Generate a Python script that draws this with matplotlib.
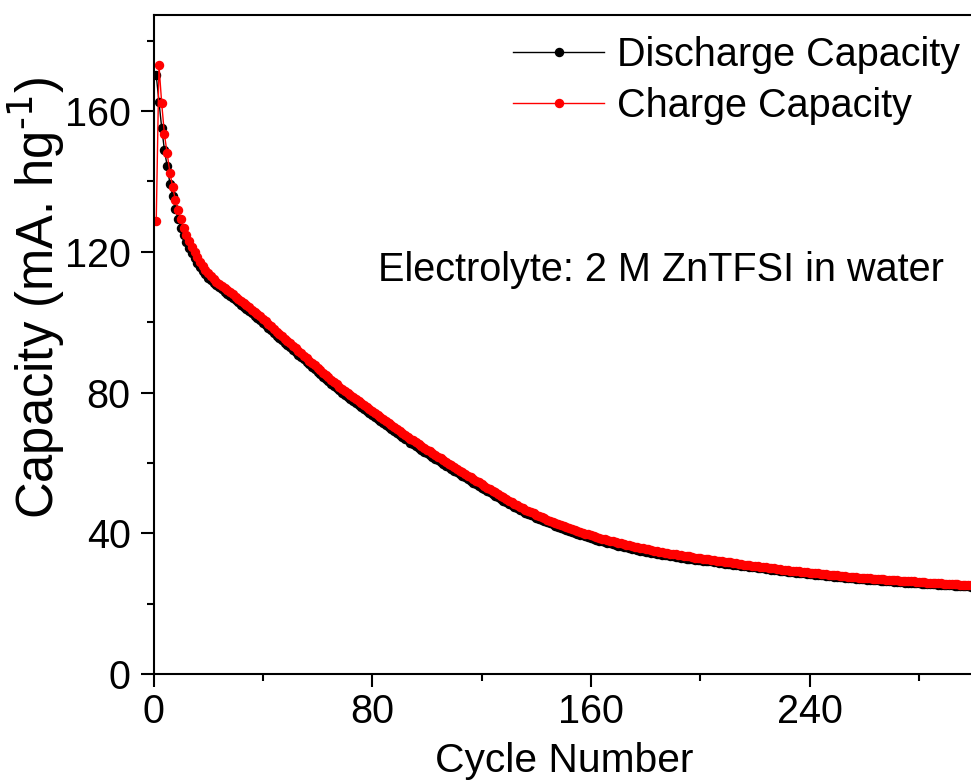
import matplotlib
matplotlib.use("Agg")
import matplotlib.pyplot as plt
import numpy as np
from matplotlib.ticker import MultipleLocator

plt.rcParams['font.family'] = ['Liberation Sans', 'DejaVu Sans']
plt.rcParams['mathtext.default'] = 'regular'

# cycle number 1..300
cycles = np.arange(1, 301)

# discharge capacity (mA h g-1), read per cycle
discharge = [
    170.2, 162.6, 155.2, 148.9, 144.4, 139.4, 135.8, 132.3, 129.4, 126.9,
    124.7, 122.8, 121.1, 119.6, 118.2, 116.9, 115.7, 114.6, 113.6, 112.7,
    111.9, 111.2, 110.5, 109.9, 109.3, 108.7, 108.1, 107.5, 106.9, 106.2,
    105.6, 105.0, 104.4, 103.8, 103.2, 102.5, 101.9, 101.2, 100.6, 99.9,
    99.2, 98.4, 97.7, 96.9, 96.2, 95.5, 94.9, 94.2, 93.6, 92.9,
    92.2, 91.5, 90.8, 90.1, 89.4, 88.7, 88.0, 87.3, 86.6, 85.9,
    85.2, 84.5, 83.9, 83.2, 82.5, 81.9, 81.3, 80.6, 80.0, 79.4,
    78.8, 78.2, 77.7, 77.1, 76.5, 75.9, 75.3, 74.8, 74.2, 73.6,
    73.0, 72.5, 71.9, 71.4, 70.8, 70.2, 69.7, 69.1, 68.6, 68.0,
    67.5, 66.9, 66.4, 65.8, 65.3, 64.8, 64.2, 63.7, 63.2, 62.7,
    62.2, 61.7, 61.2, 60.7, 60.2, 59.7, 59.2, 58.7, 58.2, 57.7,
    57.3, 56.8, 56.4, 55.9, 55.4, 54.9, 54.4, 54.0, 53.5, 53.0,
    52.6, 52.1, 51.7, 51.2, 50.7, 50.2, 49.8, 49.3, 48.9, 48.4,
    48.0, 47.5, 47.1, 46.6, 46.2, 45.8, 45.5, 45.1, 44.8, 44.4,
    44.1, 43.8, 43.5, 43.1, 42.8, 42.5, 42.2, 41.9, 41.6, 41.3,
    41.0, 40.7, 40.5, 40.2, 39.9, 39.6, 39.4, 39.1, 38.9, 38.6,
    38.4, 38.2, 37.9, 37.7, 37.5, 37.3, 37.1, 36.9, 36.7, 36.5,
    36.3, 36.1, 36.0, 35.8, 35.6, 35.4, 35.3, 35.1, 35.0, 34.8,
    34.7, 34.5, 34.4, 34.2, 34.1, 33.9, 33.8, 33.7, 33.5, 33.4,
    33.3, 33.2, 33.0, 32.9, 32.8, 32.7, 32.6, 32.5, 32.4, 32.3,
    32.2, 32.1, 32.0, 32.0, 31.9, 31.7, 31.6, 31.5, 31.4, 31.3,
    31.2, 31.1, 31.0, 30.9, 30.8, 30.7, 30.6, 30.5, 30.4, 30.3,
    30.2, 30.1, 30.0, 29.9, 29.8, 29.7, 29.6, 29.5, 29.4, 29.3,
    29.2, 29.1, 29.0, 28.9, 28.8, 28.8, 28.7, 28.6, 28.5, 28.4,
    28.3, 28.2, 28.2, 28.1, 28.0, 27.9, 27.8, 27.8, 27.7, 27.6,
    27.5, 27.5, 27.4, 27.3, 27.2, 27.2, 27.1, 27.0, 27.0, 26.9,
    26.8, 26.8, 26.7, 26.6, 26.6, 26.5, 26.5, 26.4, 26.3, 26.3,
    26.2, 26.2, 26.1, 26.1, 26.0, 26.0, 25.9, 25.9, 25.8, 25.8,
    25.7, 25.7, 25.6, 25.6, 25.5, 25.5, 25.4, 25.4, 25.3, 25.3,
    25.2, 25.2, 25.1, 25.1, 25.0, 25.0, 24.9, 24.9, 24.8, 24.8,
]

# charge capacity (mA h g-1), read per cycle
charge = [
    128.7, 173.0, 162.2, 153.4, 148.0, 142.5, 138.5, 134.7, 131.9, 129.2,
    126.8, 124.8, 123.0, 121.4, 119.9, 118.5, 117.2, 116.0, 114.9, 113.9,
    113.0, 112.2, 111.5, 110.9, 110.3, 109.7, 109.1, 108.5, 107.9, 107.3,
    106.7, 106.1, 105.5, 104.9, 104.3, 103.6, 103.0, 102.3, 101.7, 101.0,
    100.3, 99.5, 98.8, 98.0, 97.3, 96.6, 96.0, 95.3, 94.7, 94.0,
    93.3, 92.6, 91.9, 91.2, 90.5, 89.8, 89.1, 88.4, 87.7, 87.0,
    86.3, 85.6, 85.0, 84.3, 83.6, 83.0, 82.4, 81.7, 81.1, 80.5,
    79.9, 79.3, 78.8, 78.2, 77.6, 77.0, 76.4, 75.9, 75.3, 74.7,
    74.1, 73.6, 73.0, 72.5, 71.9, 71.3, 70.8, 70.2, 69.7, 69.1,
    68.6, 68.0, 67.5, 66.9, 66.4, 65.9, 65.3, 64.8, 64.3, 63.8,
    63.3, 62.8, 62.3, 61.8, 61.3, 60.8, 60.3, 59.8, 59.3, 58.8,
    58.3, 57.8, 57.4, 56.9, 56.4, 55.9, 55.4, 55.0, 54.5, 54.0,
    53.5, 53.0, 52.6, 52.1, 51.6, 51.1, 50.7, 50.2, 49.8, 49.3,
    48.9, 48.4, 48.0, 47.5, 47.1, 46.7, 46.4, 46.0, 45.7, 45.3,
    45.0, 44.6, 44.3, 43.9, 43.6, 43.3, 43.0, 42.7, 42.4, 42.1,
    41.8, 41.5, 41.3, 41.0, 40.7, 40.4, 40.2, 39.9, 39.7, 39.4,
    39.2, 39.0, 38.7, 38.5, 38.3, 38.1, 37.9, 37.7, 37.5, 37.3,
    37.1, 36.9, 36.8, 36.6, 36.4, 36.2, 36.1, 35.9, 35.8, 35.6,
    35.4, 35.3, 35.1, 35.0, 34.8, 34.7, 34.5, 34.4, 34.2, 34.1,
    34.0, 33.8, 33.7, 33.6, 33.5, 33.4, 33.2, 33.1, 33.0, 32.9,
    32.8, 32.7, 32.6, 32.5, 32.4, 32.2, 32.1, 32.0, 31.9, 31.8,
    31.7, 31.6, 31.5, 31.4, 31.3, 31.1, 31.0, 30.9, 30.8, 30.7,
    30.6, 30.5, 30.4, 30.3, 30.2, 30.1, 30.0, 29.9, 29.8, 29.7,
    29.6, 29.5, 29.4, 29.3, 29.2, 29.2, 29.1, 29.0, 28.9, 28.8,
    28.7, 28.6, 28.6, 28.5, 28.4, 28.3, 28.2, 28.2, 28.1, 28.0,
    27.9, 27.9, 27.8, 27.7, 27.6, 27.6, 27.5, 27.4, 27.4, 27.3,
    27.2, 27.2, 27.1, 27.0, 27.0, 26.9, 26.9, 26.8, 26.7, 26.7,
    26.6, 26.6, 26.5, 26.5, 26.4, 26.4, 26.3, 26.3, 26.2, 26.2,
    26.1, 26.1, 26.0, 26.0, 25.9, 25.9, 25.8, 25.8, 25.7, 25.7,
    25.6, 25.6, 25.5, 25.5, 25.4, 25.4, 25.3, 25.3, 25.2, 25.2,
]

x_ticks = [0, 80, 160, 240]
y_ticks = [0, 40, 80, 120, 160]

FS = 28.5

fig = plt.figure(figsize=(9.71, 7.8), dpi=100)
# axes runs past the right edge of the picture, like the cropped original
ax = fig.add_axes([153.5/971, 106/780, 847.5/971, 659.3/780])

ax.plot(cycles, discharge, color='black', lw=1.0, marker='o', ms=5.8,
        mec='black', mfc='black', label='Discharge Capacity')
ax.plot(cycles, charge, color='red', lw=1.0, marker='o', ms=5.8,
        mec='red', mfc='red', label='Charge Capacity')

ax.set_xlim(0, 310)
ax.set_ylim(0, 187.4)
ax.set_xticks(x_ticks)
ax.set_yticks(y_ticks)
ax.xaxis.set_minor_locator(MultipleLocator(40))
ax.yaxis.set_minor_locator(MultipleLocator(20))

for s in ax.spines.values():
    s.set_linewidth(1.5)
ax.tick_params(which='major', direction='out', length=9.4, width=1.5,
               labelsize=FS)
ax.tick_params(axis='y', which='major', pad=7)
ax.tick_params(axis='x', which='major', pad=4)
ax.tick_params(which='minor', direction='out', length=4.7, width=1.5)

ax.text(82.1, 111.6, 'Electrolyte: 2 M ZnTFSI in water', fontsize=FS,
        va='baseline', ha='left')

fig.text(564/971, 8/780, 'Cycle Number', fontsize=29.3, ha='center',
         va='baseline')
fig.text(36/971, 1 - 298/780, r'Capacity (mA. hg$^{\text{-1}}$)',
         fontsize=36.5, rotation=90, ha='center', va='center')

leg = ax.legend(loc='upper left', bbox_to_anchor=(513/971, 1 - 36/780),
                bbox_transform=fig.transFigure, frameon=False, fontsize=FS,
                handlelength=2.3, handletextpad=0.33, borderpad=0,
                borderaxespad=0, labelspacing=0.32)

fig.savefig('out.png', dpi=100)
